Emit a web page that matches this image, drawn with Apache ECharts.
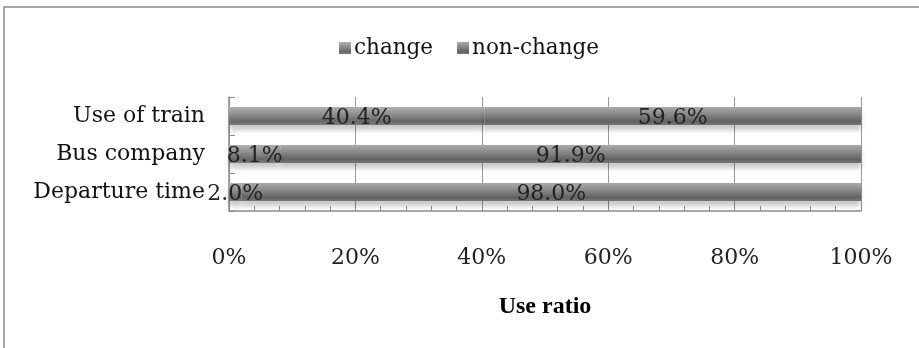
<!DOCTYPE html>
<html>
<head>
<meta charset="utf-8">
<script src="https://cdn.jsdelivr.net/npm/echarts@6/dist/echarts.min.js"></script>
<style>html,body{margin:0;padding:0;background:#fff;}#c{width:919px;height:348px;}</style>
</head>
<body>
<div id="c"></div>
<script>
const categories = ['Use of train', 'Bus company', 'Departure time'];
const changeValues = [40.4, 8.1, 2.0];
const nonChangeValues = [59.6, 91.9, 98.0];
const seriesNames = ['change', 'non-change'];
const axisName = 'Use ratio';

const FONT = 'DejaVu Serif';
const barGrad = new echarts.graphic.LinearGradient(0, 0, 0, 1, [
  {offset: 0, color: '#b0b0b0'},
  {offset: 0.4, color: '#8e8e8e'},
  {offset: 0.8, color: '#686868'},
  {offset: 1, color: '#7c7c7c'}
]);
const barGrad2 = new echarts.graphic.LinearGradient(0, 0, 0, 1, [
  {offset: 0, color: '#aaaaaa'},
  {offset: 0.4, color: '#888888'},
  {offset: 0.8, color: '#626262'},
  {offset: 1, color: '#767676'}
]);
const chart = echarts.init(document.getElementById('c'));
const labelCfg = {
  show: true, position: 'inside', color: '#222', fontFamily: FONT, fontSize: 22,
  offset: [0, 2],
  formatter: p => p.value.toFixed(1) + '%'
};
chart.setOption({
  animation: false,
  backgroundColor: '#fff',
  graphic: [{
    type: 'rect', shape: {x: 4, y: 7, width: 1000, height: 400},
    style: {fill: 'none', stroke: '#8c8c8c', lineWidth: 1.5}, silent: true
  }],
  legend: {
    top: 32, left: 334,
    icon: 'rect', itemWidth: 12, itemHeight: 12, itemGap: 24, itemSpacing: 6,
    textStyle: {fontFamily: FONT, fontSize: 21.5, color: '#111', padding: [0, 0, 0, -2]},
    data: seriesNames
  },
  grid: {left: 229, right: 58, top: 97, bottom: 137, containLabel: false},
  xAxis: {
    type: 'value', min: 0, max: 100, interval: 20,
    name: axisName, nameLocation: 'middle', nameGap: 84,
    nameTextStyle: {fontFamily: 'Liberation Serif', fontWeight: 'bold', fontSize: 24, color: '#000'},
    axisLine: {show: true, lineStyle: {color: '#8c8c8c', width: 1.5}},
    axisTick: {show: true, inside: true, length: 5, lineStyle: {color: '#8c8c8c'}},
    minorTick: {show: true, splitNumber: 5, length: 5, lineStyle: {color: '#8c8c8c'}},
    splitLine: {show: true, lineStyle: {color: '#999', width: 1}},
    axisLabel: {margin: 36, fontFamily: FONT, fontSize: 22, color: '#222', formatter: v => v + '%'}
  },
  yAxis: {
    type: 'category', data: categories, inverse: true,
    axisLine: {show: true, lineStyle: {color: '#8c8c8c', width: 1.5}},
    axisTick: {show: true, inside: true, length: 6, lineStyle: {color: '#8c8c8c'}},
    axisLabel: {margin: 24, fontFamily: FONT, fontSize: 22, color: '#111'}
  },
  series: [
    {
      name: seriesNames[0], type: 'bar', stack: 'total', data: changeValues,
      barWidth: 18,
      itemStyle: {color: barGrad, shadowColor: 'rgba(0,0,0,0.22)', shadowBlur: 5, shadowOffsetY: 5},
      label: labelCfg
    },
    {
      name: seriesNames[1], type: 'bar', stack: 'total', data: nonChangeValues,
      barWidth: 18,
      itemStyle: {color: barGrad2, shadowColor: 'rgba(0,0,0,0.22)', shadowBlur: 5, shadowOffsetY: 5},
      label: labelCfg
    }
  ]
});
</script>
</body>
</html>
